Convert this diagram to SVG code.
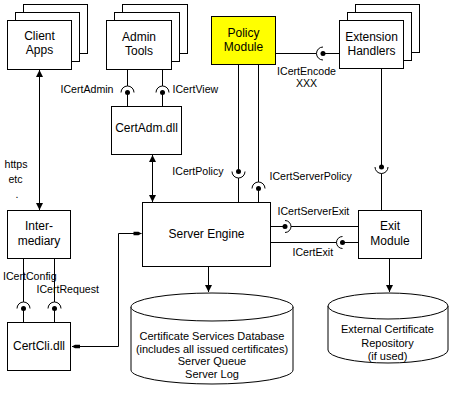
<svg xmlns="http://www.w3.org/2000/svg" width="458" height="400" viewBox="0 0 458 400">
<style>
.box{fill:#fff;stroke:#000;stroke-width:1}
.pol{fill:#ffff00;stroke:#000;stroke-width:1}
.ln{fill:none;stroke:#000;stroke-width:1}
.dot{fill:#000}
text{font-family:"Liberation Sans",Arial,sans-serif;fill:#000}
.t{font-size:12px;text-anchor:middle}
.l{font-size:11px}
.i{font-size:10.6px}
.c{text-anchor:middle}
.e{text-anchor:end}
</style>
<defs>
<marker id="ar" markerUnits="userSpaceOnUse" markerWidth="8" markerHeight="8" viewBox="0 0 8 8" refX="7" refY="4" orient="auto-start-reverse">
<path d="M0,0.5 L7,4 L0,7.5 z" fill="#000"/>
</marker>
<marker id="sm" markerUnits="userSpaceOnUse" markerWidth="10" markerHeight="6" viewBox="0 0 10 6" refX="10" refY="3" orient="auto-start-reverse">
<path d="M2,1.2 L7,1.2 L10,3 L7,4.8 L2,4.8 z" fill="#000"/>
</marker>
</defs>
<rect width="458" height="400" fill="#fff"/>

<g id="client-apps">
<rect class="box" x="23.5" y="4.5" width="64" height="49"/>
<rect class="box" x="15.5" y="12.5" width="64" height="49"/>
<rect class="box" x="7.5" y="20.5" width="64" height="49"/>
<text class="t" x="39.5" y="40">Client</text>
<text class="t" x="39.5" y="54">Apps</text>
</g>

<g id="admin-tools">
<rect class="box" x="122.5" y="4.5" width="65" height="49"/>
<rect class="box" x="114.5" y="12.5" width="65" height="49"/>
<rect class="box" x="106.5" y="20.5" width="65" height="49"/>
<text class="t" x="139" y="40.5">Admin</text>
<text class="t" x="139" y="55">Tools</text>
</g>

<g id="policy-module">
<rect class="pol" x="211.5" y="16.5" width="64" height="48"/>
<text class="t" x="243.5" y="37">Policy</text>
<text class="t" x="243.5" y="50.5">Module</text>
</g>

<g id="extension-handlers">
<rect class="box" x="355.5" y="4.5" width="64" height="48"/>
<rect class="box" x="347.5" y="12.5" width="64" height="48"/>
<rect class="box" x="339.5" y="20.5" width="64" height="48"/>
<text class="t" x="371.5" y="40.5">Extension</text>
<text class="t" x="371.5" y="55">Handlers</text>
</g>

<g id="certadm">
<rect class="box" x="111.5" y="106.5" width="70" height="48"/>
<text class="t" x="146.5" y="132">CertAdm.dll</text>
</g>

<g id="intermediary">
<rect class="box" x="7.5" y="210.5" width="63" height="48"/>
<text class="t" x="39" y="230">Inter-</text>
<text class="t" x="39" y="244.5">mediary</text>
</g>

<g id="certcli">
<rect class="box" x="7.5" y="322.5" width="63" height="48"/>
<text class="t" x="39" y="350">CertCli.dll</text>
</g>

<g id="server-engine">
<rect class="box" x="142.5" y="202.5" width="128" height="64"/>
<text class="t" x="206.5" y="237.5">Server Engine</text>
</g>

<g id="exit-module">
<rect class="box" x="358.5" y="210.5" width="63" height="48"/>
<text class="t" x="390" y="229.5">Exit</text>
<text class="t" x="390" y="245">Module</text>
</g>

<g id="database">
<path class="box" d="M131,307 V370 A81,14 0 0 0 293,370 V307"/>
<ellipse class="box" cx="212" cy="307" rx="81" ry="14"/>
<text class="l c" x="212" y="340">Certificate Services Database</text>
<text class="l c" x="212" y="352.5">(includes all issued certificates)</text>
<text class="l c" x="212" y="365">Server Queue</text>
<text class="l c" x="212" y="378">Server Log</text>
</g>

<g id="external-repository">
<path class="box" d="M328,306 V350 A60,13 0 0 0 448,350 V306"/>
<ellipse class="box" cx="388" cy="306" rx="60" ry="13"/>
<text class="l c" x="387.5" y="333">External Certificate</text>
<text class="l c" x="387.5" y="346.5">Repository</text>
<text class="l c" x="387.5" y="359.5">(if used)</text>
</g>

<g id="connectors">
<path class="ln" d="M39.5,70 V210" marker-start="url(#ar)" marker-end="url(#ar)"/>
<path class="ln" d="M152.5,155 V202" marker-start="url(#ar)" marker-end="url(#ar)"/>
<path class="ln" d="M208.5,267 V292" marker-end="url(#ar)"/>
<path class="ln" d="M389.5,259 V292" marker-end="url(#ar)"/>
<path class="ln" d="M72,346.5 H118.5 V233.5 H141.5" marker-start="url(#sm)" marker-end="url(#sm)"/>

<path class="ln" d="M127.5,69.5 V86 M121,92.5 A6.5,6.5 0 0 1 134,92.5 M127.5,92.5 V106.5"/>
<circle class="dot" cx="127.5" cy="92.5" r="2.5"/>
<path class="ln" d="M162.5,69.5 V86 M156,92.5 A6.5,6.5 0 0 1 169,92.5 M162.5,92.5 V106.5"/>
<circle class="dot" cx="162.5" cy="92.5" r="2.5"/>
<path class="ln" d="M23.5,258.5 V302 M17,308.5 A6.5,6.5 0 0 1 30,308.5 M23.5,308.5 V322.5"/>
<circle class="dot" cx="23.5" cy="308.5" r="2.5"/>
<path class="ln" d="M54.5,258.5 V302 M48,308.5 A6.5,6.5 0 0 1 61,308.5 M54.5,308.5 V322.5"/>
<circle class="dot" cx="54.5" cy="308.5" r="2.5"/>
<path class="ln" d="M238.5,64.5 V171.5 M232,171.5 A6.5,6.5 0 0 0 245,171.5 M238.5,178 V202.5"/>
<circle class="dot" cx="238.5" cy="171.5" r="2.5"/>
<path class="ln" d="M258.5,64.5 V182 M252,188.5 A6.5,6.5 0 0 1 265,188.5 M258.5,188.5 V202.5"/>
<circle class="dot" cx="258.5" cy="188.5" r="2.5"/>
<path class="ln" d="M381.5,68.5 V167 M375,167 A6.5,6.5 0 0 0 388,167 M381.5,173.5 V210.5"/>
<circle class="dot" cx="381.5" cy="167" r="2.5"/>
<path class="ln" d="M275.5,53.5 H316.5 M323,47 A6.5,6.5 0 0 0 323,60 M323,53.5 H339.5"/>
<circle class="dot" cx="323" cy="53.5" r="2.5"/>
<path class="ln" d="M270.5,226.5 H285 M285,220.5 A6,6 0 0 1 285,232.5 M291,226.5 H358.5"/>
<circle class="dot" cx="285" cy="226.5" r="2.5"/>
<path class="ln" d="M270.5,242.5 H336.5 M342.5,236.5 A6,6 0 0 0 342.5,248.5 M342.5,242.5 H358.5"/>
<circle class="dot" cx="342.5" cy="242.5" r="2.5"/>

<text class="i e" x="113.5" y="92.5">ICertAdmin</text>
<text class="i" x="172.5" y="92.5">ICertView</text>
<text class="i c" x="306.5" y="74.5">ICertEncode</text>
<text class="i c" x="306.5" y="86.5">XXX</text>
<text class="i e" x="223.5" y="175">ICertPolicy</text>
<text class="i" x="269.5" y="180">ICertServerPolicy</text>
<text class="i" x="277.5" y="215">ICertServerExit</text>
<text class="i" x="292.5" y="255.5">ICertExit</text>
<text class="i" x="3" y="279.5">ICertConfig</text>
<text class="i" x="36.5" y="293">ICertRequest</text>
<text class="i c" x="16" y="168">https</text>
<text class="i c" x="15.5" y="183">etc</text>
<text class="i c" x="17" y="198">.</text>
</g>
</svg>
